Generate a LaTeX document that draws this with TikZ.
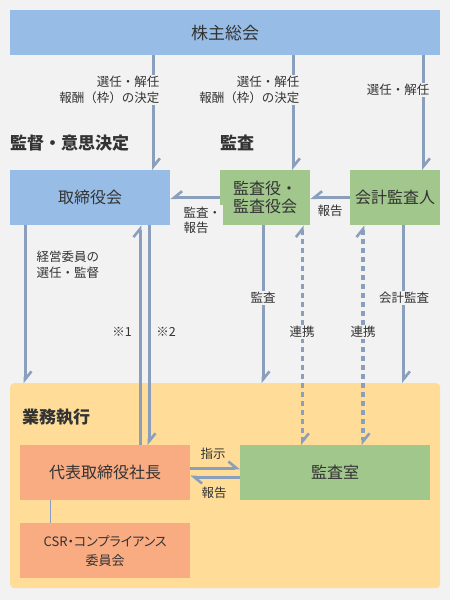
\documentclass[tikz,border=0pt]{standalone}
\usepackage{fontspec}
\setmainfont{Noto Sans CJK JP}
\newfontfamily\jpprop[RawFeature=+palt]{Noto Sans CJK JP}
\usepackage{xcolor}
\usepackage{tikz}
\usetikzlibrary{arrows.meta}

\definecolor{fondo}{HTML}{F2F2F2}
\definecolor{azul}{HTML}{97BDE6}
\definecolor{verde}{HTML}{A1C78D}
\definecolor{naranja}{HTML}{F9AB82}
\definecolor{amarillo}{HTML}{FFDD99}
\definecolor{linea}{HTML}{8A9FBB}
\definecolor{texto}{HTML}{333333}

\begin{document}
\begin{tikzpicture}[x=1pt, y=-1pt,
	>={Straight Barb[harpoon, length=8pt, width=13pt, line width=2.6pt]},
	caja/.style={anchor=north west, inner sep=0pt, align=center, text=texto, minimum height=55pt, font=\fontsize{16}{18}\selectfont},
	titulo/.style={anchor=west, inner sep=0pt, text=texto, font=\bfseries\fontsize{17}{20}\selectfont},
	etiqueta/.style={inner sep=1.5pt, fill=fondo, text=texto, font=\fontsize{12.5}{16}\selectfont},
	flecha/.style={->, line width=3pt, color=linea},
	flechainv/.style={flecha, -{Straight Barb[harpoon, swap, length=8pt, width=13pt, line width=2.6pt]}},
	enlace/.style={<->, line width=3.5pt, color=linea, dash pattern=on 5pt off 4pt}]

	% Fondo
	\fill[fondo] (0,0) rectangle (450,600);

	% Cajas superiores
	\node[caja, fill=azul, minimum width=430pt, minimum height=45pt, font=\fontsize{17}{20}\selectfont] (junta) at (10,10) {株主総会};
	\node[caja, fill=azul, minimum width=160pt] (consejo) at (10,170) {取締役会};
	\node[caja, fill=verde, minimum width=90pt] (auditores) at (220,170) {監査役・\\監査役会};
	\node[caja, fill=verde, minimum width=90pt] (contable) at (350,170) {会計監査人};

	% Titulos
	\node[titulo] (tsup) at (10,143) {監督・意思決定};
	\node[titulo] (taud) at (220,143) {監査};

	% Zona de ejecucion (amarilla)
	\node[anchor=north west, inner sep=0pt, fill=amarillo, rounded corners=4pt, minimum width=430pt, minimum height=205pt] (ejecucion) at (10,383) {};
	\node[titulo] (tejec) at (22,417) {業務執行};
	\node[caja, fill=naranja, minimum width=170pt] (presidente) at (20,445) {代表取締役社長};
	\node[caja, fill=verde, minimum width=190pt] (oficina) at (240,445) {監査室};
	\node[caja, fill=naranja, minimum width=170pt, font=\jpprop\fontsize{13}{19}\selectfont] (comite) at (20,523) {CSR・コンプライアンス\\委員会};

	% Puntos de las flechas verticales
	\coordinate (p1) at ([xshift=-17pt]consejo.north east);
	\coordinate (p2) at ([xshift=-17pt]auditores.north east);
	\coordinate (p3) at ([xshift=-17pt]contable.north east);
	\coordinate (p4) at ([xshift=15pt]consejo.south west);
	\coordinate (p5) at ([xshift=120pt]presidente.north west);
	\coordinate (p6) at ([xshift=129pt]presidente.north west);
	\coordinate (p7) at ([xshift=43pt]auditores.south west);
	\coordinate (p8) at ([xshift=-8pt]auditores.south east);
	\coordinate (p9) at ([xshift=13pt]contable.south west);
	\coordinate (p10) at ([xshift=-37pt]contable.south east);
	\coordinate (p11) at ([yshift=-23pt]presidente.north east);
	\coordinate (p12) at ([yshift=-32pt]presidente.north east);
	\coordinate (p13) at ([xshift=30pt]presidente.south west);

	% Flechas desde la junta
	\draw[flecha] (p1 |- junta.south) -- (p1);
	\draw[flecha] (p2 |- junta.south) -- (p2);
	\draw[flecha] (p3 |- junta.south) -- (p3);

	% Informes hacia la izquierda
	\draw[flechainv] (auditores.west) -- (consejo.east);
	\draw[flechainv] (contable.west) -- (auditores.east);

	% Flechas hacia la ejecucion
	\draw[flecha] (p4) -- (p4 |- ejecucion.north);
	\draw[flecha] (p5) -- (p5 |- consejo.south);
	\draw[flecha] (p6 |- consejo.south) -- (p6);
	\draw[flecha] (p7) -- (p7 |- ejecucion.north);
	\draw[enlace] (p8) -- (p8 |- oficina.north);
	\draw[enlace] (p9) -- (p9 |- oficina.north);
	\draw[flecha] (p10) -- (p10 |- ejecucion.north);

	% Presidente y oficina de auditoria
	\draw[flecha] (p11) -- (p11 -| oficina.west);
	\draw[flecha] (p12 -| oficina.west) -- (p12);
	\draw[line width=0.8pt, color=linea] (p13) -- (p13 |- comite.north);

	% Etiquetas
	\node[etiqueta, anchor=east, align=right] (e1) at (161,90) {選任・解任\\報酬（枠）の決定};
	\node[etiqueta, anchor=east, align=right] (e2) at (301,90) {選任・解任\\報酬（枠）の決定};
	\node[etiqueta, anchor=east] (e3) at (431,90) {選任・解任};
	\node[etiqueta, anchor=west, align=left, font=\fontsize{12.5}{15}\selectfont] (e4) at (182,220) {監査・\\報告};
	\node[etiqueta] (e5) at (330,211) {報告};
	\node[etiqueta, anchor=west, align=left] (e6) at (35,265) {経営委員の\\選任・監督};
	\node[etiqueta] (e7) at (122,332) {※1};
	\node[etiqueta] (e8) at (166,332) {※2};
	\node[etiqueta] (e9) at (263,298) {監査};
	\node[etiqueta] (e10) at (302,332) {連携};
	\node[etiqueta] (e11) at (363,332) {連携};
	\node[etiqueta] (e12) at (404,298) {会計監査};
	\node[etiqueta, fill=none] (e13) at (213,454) {指示};
	\node[etiqueta, fill=none] (e14) at (214,493) {報告};

\end{tikzpicture}
\end{document}
